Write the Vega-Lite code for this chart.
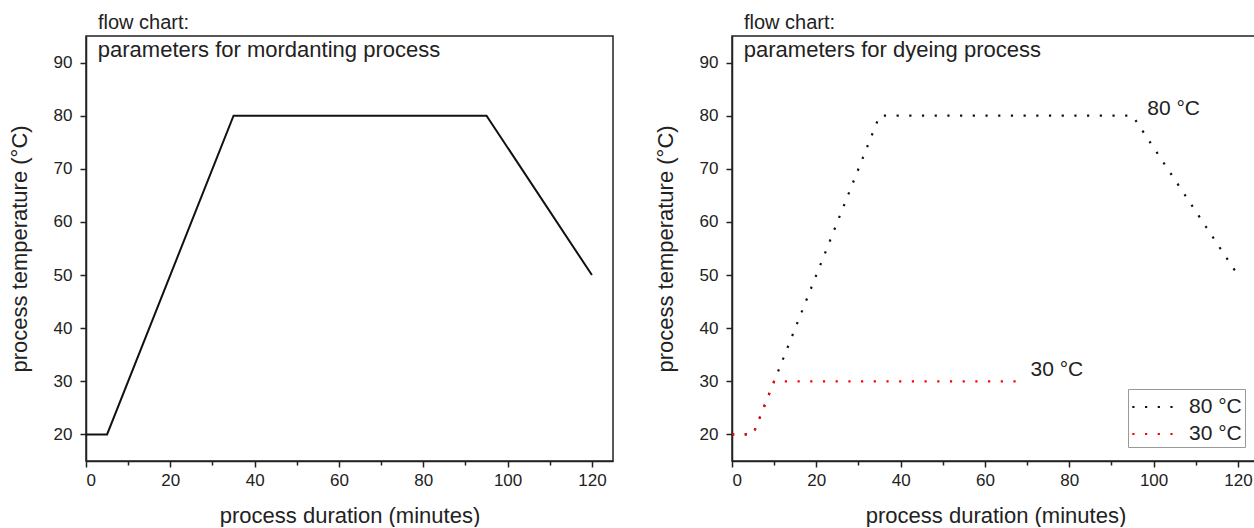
{
  "$schema": "https://vega.github.io/schema/vega-lite/v6.json",
  "background": "white",
  "padding": {"left": 7, "top": 12, "right": 0, "bottom": 0},
  "spacing": 39,
  "resolve": {"legend": {"color": "independent"}},
  "config": {
    "font": "Liberation Sans",
    "view": {"stroke": "#222", "strokeWidth": 1.5},
    "axis": {
      "domainColor": "#222", "domainWidth": 1.5, "tickColor": "#222", "tickWidth": 1.5,
      "labelFontSize": 17, "labelColor": "#222", "titleFontSize": 22, "titleFontWeight": "normal", "titleColor": "#222",
      "grid": false, "labelOverlap": false
    },
    "title": {"fontSize": 20, "fontWeight": "normal", "color": "#222", "anchor": "start", "frame": "group", "dx": 12, "offset": 3},
    "legend": {"labelFontSize": 21, "labelColor": "#222"}
  },
  "datasets": {
    "mordant": [
      {"t": 0, "temp": 20}, {"t": 5, "temp": 20}, {"t": 35, "temp": 80}, {"t": 95, "temp": 80}, {"t": 120, "temp": 50}
    ],
    "dye": [
      {"series": "80 °C", "t": 0, "temp": 20}, {"series": "80 °C", "t": 5, "temp": 20}, {"series": "80 °C", "t": 35, "temp": 80}, {"series": "80 °C", "t": 95, "temp": 80}, {"series": "80 °C", "t": 120, "temp": 50},
      {"series": "30 °C", "t": 0, "temp": 20}, {"series": "30 °C", "t": 5, "temp": 20}, {"series": "30 °C", "t": 10, "temp": 30}, {"series": "30 °C", "t": 69, "temp": 30}
    ],
    "labels": [
      {"series": "80 °C", "t": 98.5, "temp": 81.3},
      {"series": "30 °C", "t": 70.8, "temp": 32.1}
    ]
  },
  "hconcat": [
    {
      "width": 527, "height": 425,
      "title": {"text": "flow chart:"},
      "layer": [
        {
          "data": {"name": "mordant"},
          "mark": {"type": "line", "color": "#111", "strokeWidth": 2},
          "encoding": {
            "x": {"field": "t", "type": "quantitative", "scale": {"domain": [0, 125], "nice": false},
              "axis": {"title": "process duration (minutes)", "values": [0,10,20,30,40,50,60,70,80,90,100,110,120],
                "labelExpr": "datum.value % 20 === 0 ? datum.label : ''", "labelOverlap": false,
                "tickSize": {"condition": {"test": "datum.value % 20 === 0", "value": 6}, "value": 4},
                "labelPadding": 5, "titlePadding": 17}},
            "y": {"field": "temp", "type": "quantitative", "scale": {"domain": [15, 95], "nice": false},
              "axis": {"title": "process temperature (°C)", "values": [20,25,30,35,40,45,50,55,60,65,70,75,80,85,90],
                "labelExpr": "datum.value % 10 === 0 ? datum.label : ''", "labelOverlap": false,
                "tickSize": {"condition": {"test": "datum.value % 10 === 0", "value": 6}, "value": 4},
                "labelPadding": 8, "titlePadding": 22}}
          }
        },
        {
          "data": {"values": [{"caption": "parameters for mordanting process"}]},
          "mark": {"type": "text", "align": "left", "baseline": "middle", "fontSize": 22, "color": "#222"},
          "encoding": {
            "x": {"datum": 2.8, "type": "quantitative"},
            "y": {"datum": 92.3, "type": "quantitative"},
            "text": {"field": "caption"}
          }
        }
      ]
    },
    {
      "width": 527, "height": 425,
      "title": {"text": "flow chart:"},
      "layer": [
        {
          "data": {"name": "dye"},
          "mark": {"type": "line", "strokeWidth": 2.2, "strokeDash": [2.2, 10.5]},
          "encoding": {
            "x": {"field": "t", "type": "quantitative", "scale": {"domain": [0, 125], "nice": false},
              "axis": {"title": "process duration (minutes)", "values": [0,10,20,30,40,50,60,70,80,90,100,110,120],
                "labelExpr": "datum.value % 20 === 0 ? datum.label : ''", "labelOverlap": false,
                "tickSize": {"condition": {"test": "datum.value % 20 === 0", "value": 6}, "value": 4},
                "labelPadding": 5, "titlePadding": 17}},
            "y": {"field": "temp", "type": "quantitative", "scale": {"domain": [15, 95], "nice": false},
              "axis": {"title": "process temperature (°C)", "values": [20,25,30,35,40,45,50,55,60,65,70,75,80,85,90],
                "labelExpr": "datum.value % 10 === 0 ? datum.label : ''", "labelOverlap": false,
                "tickSize": {"condition": {"test": "datum.value % 10 === 0", "value": 6}, "value": 4},
                "labelPadding": 8, "titlePadding": 22}},
            "color": {"field": "series", "type": "nominal",
              "scale": {"domain": ["80 °C", "30 °C"], "range": ["#111111", "#ff0000"]},
              "legend": {"title": null, "orient": "bottom-right", "offset": 14, "symbolType": "M-1,0H2",
                "symbolStrokeWidth": 2.2, "symbolDash": [2.2, 10.5], "symbolSize": 750, "symbolFillColor": "transparent",
                "strokeColor": "#999", "padding": 3, "rowPadding": 2, "labelOffset": 28}},
            "order": {"field": "series", "sort": "descending"}
          }
        },
        {
          "data": {"name": "labels"},
          "mark": {"type": "text", "align": "left", "baseline": "middle", "fontSize": 21, "color": "#222"},
          "encoding": {
            "x": {"field": "t", "type": "quantitative"},
            "y": {"field": "temp", "type": "quantitative"},
            "text": {"field": "series"}
          }
        },
        {
          "data": {"values": [{"caption": "parameters for dyeing process"}]},
          "mark": {"type": "text", "align": "left", "baseline": "middle", "fontSize": 22, "color": "#222"},
          "encoding": {
            "x": {"datum": 2.8, "type": "quantitative"},
            "y": {"datum": 92.3, "type": "quantitative"},
            "text": {"field": "caption"}
          }
        }
      ]
    }
  ]
}
